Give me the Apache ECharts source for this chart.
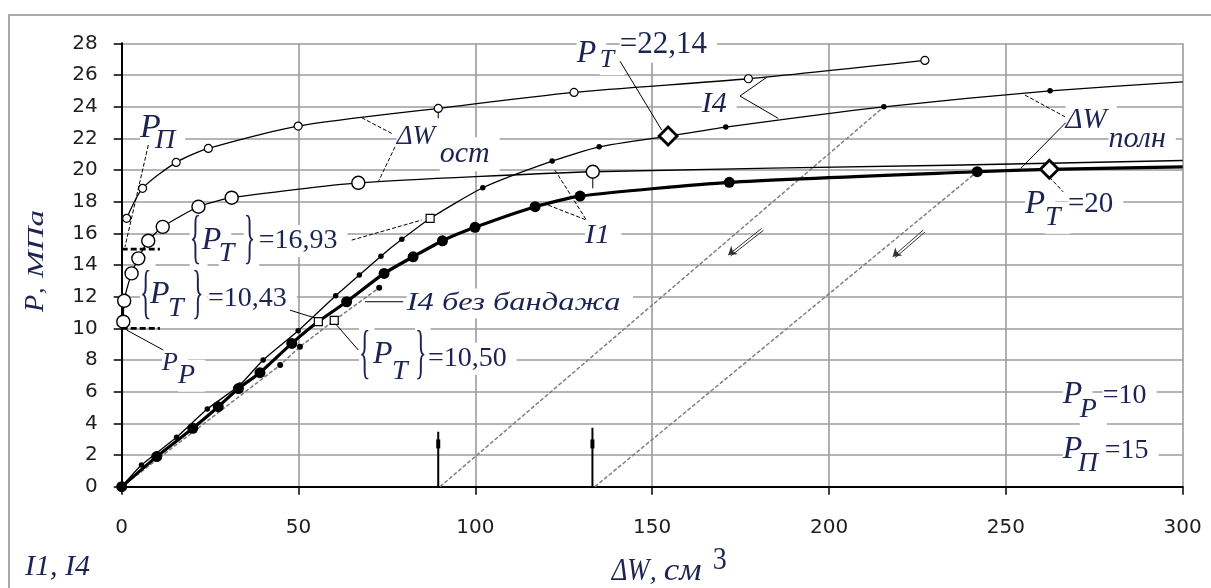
<!DOCTYPE html>
<html>
<head>
<meta charset="utf-8">
<title>P – ΔW</title>
<script src="https://cdn.jsdelivr.net/npm/echarts@6.0.0/dist/echarts.min.js"></script>
<style>
html,body{margin:0;padding:0;background:#fff;}
#chart{width:1211px;height:588px;}
</style>
</head>
<body>
<div id="chart"></div>
<script>
// ================= DATA =================
const xRange = [0, 300], xStep = 50;
const yRange = [0, 28], yStep = 2;

// I1 – full volume change (thick line, big black dots)
const I1_full = [[0,0],[9.9,1.9],[20.1,3.69],[27.3,5.05],[33.0,6.2],[39.1,7.2],[48.1,9.05],[63.6,11.68],[74.2,13.47],[82.4,14.52],[90.7,15.53],[99.9,16.38],[116.9,17.68],[129.6,18.35],[171.8,19.22],[241.9,19.89]];
const I1_full_end = [[300,20.2]];
// I1 – residual volume change (big open circles)
const I1_res = [[0.45,10.42],[0.7,11.74],[2.8,13.47],[4.7,14.42],[7.5,15.53],[11.6,16.41],[21.7,17.68],[31.1,18.25],[66.9,19.19],[133.2,19.89]];
const I1_res_end = [[234,20.3],[300,20.6]];
// I4 – full volume change (thin line, small black dots)
const I4_full = [[0,0],[5.6,1.37],[15.5,3.12],[24.2,4.9],[33.4,6.42],[40.0,8.0],[49.9,9.85],[60.5,12.06],[67.2,13.37],[73.3,14.56],[79.2,15.62],[102.1,18.88],[121.7,20.56],[135.0,21.46],[170.8,22.71],[215.5,23.99],[262.5,25.0]];
const I4_full_end = [[300,25.57]];
// I4 – residual volume change (small open circles)
const I4_res = [[1.4,16.95],[5.9,18.84],[15.4,20.48],[24.5,21.36],[49.9,22.77],[89.5,23.89],[127.9,24.9],[177.2,25.76],[227.1,26.92]];
// I4 without bandage (dashed line with dots)
const I4_bare_start = [[0,0]];
const I4_bare = [[44.8,7.68],[50.4,8.84],[72.8,12.56]];
// yield points
const PT_squares  = [[87.2,16.94],[55.6,10.43],[60.1,10.5]];   // {P_T}=16,93 ; {P_T}=10,43 ; {P_T}=10,50
const PT_diamonds = [[154.5,22.14],[262.3,20.04]];             // P_T=22,14 ; P_T=20
// unloading lines
const unload1 = [[90,0],[215.5,23.99]];
const unload2 = [[133.8,0],[241.9,19.89]];
// residual-volume markers on the x axis: [x, top, block]
const residMarks = [[89.5,3.47,2.7],[133.1,3.72,2.7]];
// pressure levels P_P and P_П
const P_P = 10, P_Pi = 15, levelLen = 10.8;

// ================= ANNOTATION GEOMETRY =================
const leaders = [
  {p:[[7.52,21.57],[0.93,15.15]], d:true},                       // P_П
  {p:[[1.41,9.89],[11.76,8.63]], d:false},                       // P_P
  {p:[[67.85,23.3],[76.34,22.31]], d:true},                      // ΔW_ост -> I4
  {p:[[77.27,21.46],[72.55,19.25]], d:true},                     // ΔW_ост -> I1
  {p:[[122.5,19.99],[131.4,16.84],[120.6,17.78]], d:true},       // I1
  {p:[[182.36,25.85],[174.81,24.67],[185.64,23.26]], d:false},   // I4
  {p:[[255.4,24.73],[266.7,23.36]], d:true},                     // ΔW_полн -> I4
  {p:[[254.2,20.1],[266.9,22.98]], d:false},                     // ΔW_полн -> I1
  {p:[[262.3,19.55],[266.2,18.62]], d:true},                     // P_T=20
  {p:[[140.9,26.87],[152.7,22.52]], d:false},                    // P_T=22,14
  {p:[[65.03,15.57],[84.8,16.84]], d:true},                      // {P_T}=16,93
  {p:[[47.58,11.15],[55.0,10.63]], d:false},                     // {P_T}=10,43
  {p:[[60.6,10.25],[66.9,8.63]], d:false},                       // {P_T}=10,50
  {p:[[68.79,11.68],[79.6,11.68]], d:false},                     // I4 без бандажа
  {p:[[89.5,23.67],[89.5,23.26]], d:false},
  {p:[[133.2,19.5],[133.2,18.84]], d:false}
];
const arrows = [[[180.94,16.31],[171.5,14.63]], [[226.6,16.2],[218,14.52]]];

const SERIF = "'Liberation Serif','Times New Roman',serif";
const INK = '#1b2452';
// parts: [text, dx(px), baseline dy(px), fontSize, italic, scaleX, scaleY]
const labelDefs = [
  {at:[5.17,22.08],   parts:[['P',0,0,34],['П',15,11,28]]},
  {at:[77.75,21.63],  parts:[['ΔW',0,0,27],['ост',43,18,30]]},
  {at:[130.99,15.37], parts:[['I1',0,0,27,true,1.12]]},
  {at:[163.98,23.67], parts:[['I4',0,0,30]]},
  {at:[266.89,22.65], parts:[['ΔW',0,0,29],['полн',43,19,30]]},
  {at:[255.4,17.28],  parts:[['P',0,0,33],['T',20,12,28],['=20',43,-1,29,false]]},
  {at:[128.64,26.83], parts:[['P',0,0,32],['T',23,5,26],['=22,14',43,-8.5,31,false]]},
  {at:[22.62,14.99],  parts:[['{',-12,7,60,false,0.4],['P',0,0,32],['T',17,12,28],['}',42,7,60,false,0.4],['=16,93',57,-1,28,false]]},
  {at:[8.0,11.58],    parts:[['{',-10,8,60,false,0.4],['P',0,0,32],['T',18,13,28],['}',42,8,60,false,0.4],['=10,43',58,3,28,false]]},
  {at:[71.05,7.79],   parts:[['{',-14,8,60,false,0.4],['P',0,0,32],['T',19,16,28],['}',42,8,60,false,0.4],['=10,50',55,2.7,28,false]]},
  {at:[80.58,11.14],  parts:[['I4 без бандажа',0,0,26,true,1.25]]},
  {at:[11.4,7.37],    parts:[['P',0,0,26],['P',16,13,28]]},
  {at:[266.1,5.27],   parts:[['P',0,0,32],['P',17,14,28],['=10',40,0,28,false]]},
  {at:[266.1,1.79],   parts:[['P',0,0,32],['П',15,13,28],['=15',42,0,28,false]]}
];
const titleDefs = [
  {px:[43,312], rot:Math.PI/2, parts:[['P',0,0,28],[',',18,0,26],['МПа',34,0,24,true,1.38]]},
  {px:[611.7,580], parts:[['ΔW',0,0,28,true,0.95,1.15],[',',38,0,28],['см',52,0,28,true,1.25,1.15],['3',101,-11,28,false,1,1.15]]},
  {px:[25,575], parts:[['I1, I4',0,0,30]]}
];

// ================= CHART =================
const chart = echarts.init(document.getElementById('chart'), null, {renderer:'canvas'});

function merged(marks, extra, sym, size) {
  const a = marks.map(p => ({value:p, symbol:sym, symbolSize:size}))
    .concat(extra.map(p => ({value:p, symbol:'none', symbolSize:0})));
  a.sort((u, v) => u.value[0] - v.value[0]);
  return a;
}
const thin = {color:'#000', width:1.3};
const base = {type:'line', silent:true, animation:false, clip:true, emphasis:{disabled:true}};
const scat = {type:'scatter', silent:true, animation:false, emphasis:{disabled:true}};

const series = [];
// unloading dashed lines
[unload1, unload2].forEach(u => series.push(Object.assign({}, base, {
  data:u, symbol:'none', z:2, lineStyle:{color:'#808080', width:1.5, type:[4,2]}
})));
// I4 without bandage
series.push(Object.assign({}, base, {
  data: merged(I4_bare, I4_bare_start.concat([PT_squares[2]]), 'circle', 6),
  lineStyle:{color:'#7a7a7a', width:1.5, type:[4,2]}, itemStyle:{color:'#000', opacity:1}, z:3
}));
// I4 residual
series.push(Object.assign({}, base, {
  data: I4_res, symbol:'circle', symbolSize:8, smooth:0.25,
  lineStyle:thin, itemStyle:{color:'#fff', borderColor:'#000', borderWidth:1.2, opacity:1}, z:4
}));
// I1 residual
series.push(Object.assign({}, base, {
  data: merged(I1_res, I1_res_end, 'circle', 13), smooth:0.2,
  lineStyle:thin, itemStyle:{color:'#fff', borderColor:'#000', borderWidth:1.4, opacity:1}, z:4
}));
// I4 full
series.push(Object.assign({}, base, {
  data: merged(I4_full, [PT_squares[0], PT_diamonds[0]].concat(I4_full_end), 'circle', 5.5), smooth:0.2,
  lineStyle:thin, itemStyle:{color:'#000', opacity:1}, z:5
}));
// I1 full (thick)
series.push(Object.assign({}, base, {
  data: merged(I1_full, [PT_squares[1], PT_diamonds[1]].concat(I1_full_end), 'circle', 11), smooth:0.2,
  lineStyle:{color:'#000', width:3.2}, itemStyle:{color:'#000', opacity:1}, z:6
}));
// level markers P_P, P_П
[P_P, P_Pi].forEach(v => series.push(Object.assign({}, base, {
  data:[[0,v],[levelLen,v]], symbol:'none', z:7,
  lineStyle:{color:'#000', width:2.6, type:[6,3]}
})));
// residual markers on x axis
residMarks.forEach(m => {
  series.push(Object.assign({}, base, {data:[[m[0],0],[m[0],m[1]]], symbol:'none', z:7, lineStyle:{color:'#000', width:2}}));
});
series.push(Object.assign({}, scat, {z:8, symbol:'rect', symbolSize:[4,9],
  itemStyle:{color:'#000', opacity:1}, data: residMarks.map(m => [m[0], m[2]])}));
// leader lines
leaders.forEach(l => series.push(Object.assign({}, base, {
  data:l.p, symbol:'none', z:9, lineStyle:{color:'#000', width:1, type: l.d ? [4,2] : 'solid'}
})));
// unloading arrows
series.push({type:'lines', coordinateSystem:'cartesian2d', silent:true, animation:false, z:9,
  symbol:['none','arrow'], symbolSize:8, lineStyle:{color:'#333', width:1, opacity:1},
  data: arrows.map(a => ({coords:a}))});
series.push({type:'lines', coordinateSystem:'cartesian2d', silent:true, animation:false, z:9,
  symbol:['none','none'], lineStyle:{color:'#333', width:1, opacity:1},
  data: arrows.map(a => ({coords:[[a[0][0]+0.5, a[0][1]-0.12],[a[1][0]+0.7, a[1][1]-0.06]]}))});
// yield-point squares and diamonds
series.push(Object.assign({}, scat, {z:12, symbol:'rect', symbolSize:8,
  itemStyle:{color:'#fff', borderColor:'#000', borderWidth:1.2, opacity:1}, data:PT_squares}));
series.push(Object.assign({}, scat, {z:12, symbol:'diamond', symbolSize:18,
  itemStyle:{color:'#fff', borderColor:'#000', borderWidth:2.8, opacity:1}, data:PT_diamonds}));

const axisText = {fontFamily:"'DejaVu Sans', Verdana, sans-serif", fontSize:20, color:'#1e1e1e'};
const option = {
  animation:false,
  backgroundColor:'#fff',
  grid:{left:121.7, right:28.3, top:43.3, bottom:101.3, containLabel:false, outerBoundsMode:'none'},
  xAxis:{type:'value', min:xRange[0], max:xRange[1], interval:xStep,
    axisLine:{show:true, onZero:false, lineStyle:{color:'#000', width:2}},
    axisTick:{show:true, inside:false, length:8, lineStyle:{color:'#000', width:1.5}},
    axisLabel:Object.assign({show:true, margin:31}, axisText),
    splitLine:{show:true, lineStyle:{color:'#9c9c9c', width:1.6}}},
  yAxis:{type:'value', min:yRange[0], max:yRange[1], interval:yStep,
    axisLine:{show:true, onZero:false, lineStyle:{color:'#000', width:2}},
    axisTick:{show:true, inside:false, length:8, lineStyle:{color:'#000', width:1.5}},
    axisLabel:Object.assign({show:true, margin:24}, axisText),
    splitLine:{show:true, lineStyle:{color:'#9c9c9c', width:1.6}}},
  series:series
};
chart.setOption(option);

// ---------- text annotations (anchored through the grid's scales) ----------
function partEl(p, bg) {
  const [t, dx, dy, size, italic = true, sx = 1, sy = 1] = p;
  const st = {
    text:t, x:0, y:-0.26*size,
    fontFamily:SERIF, fontSize:size, fontStyle: italic ? 'italic' : 'normal',
    fill: bg ? 'rgba(255,255,255,0)' : INK,
    align:'left', verticalAlign:'middle'
  };
  if (bg) { st.backgroundColor = '#fff'; st.padding = [2,5]; }
  return {type:'text', x:dx, y:dy, scaleX:sx, scaleY:sy, z: bg ? 1 : 20, silent:true, style:st};
}
const graphics = [{type:'rect', z:0, silent:true, shape:{x:9, y:15, width:1225, height:620},
  style:{fill:'none', stroke:'#a9a9a9', lineWidth:2}}];
labelDefs.forEach(l => {
  const pt = chart.convertToPixel({gridIndex:0}, l.at);
  graphics.push({type:'group', x:pt[0], y:pt[1], children:
    l.parts.map(p => partEl(p, true)).concat(l.parts.map(p => partEl(p, false)))});
});
titleDefs.forEach(l => {
  graphics.push({type:'group', x:l.px[0], y:l.px[1], rotation:l.rot || 0, children:
    l.parts.map(p => partEl(p, false))});
});
chart.setOption({graphic:graphics});
</script>
</body>
</html>
